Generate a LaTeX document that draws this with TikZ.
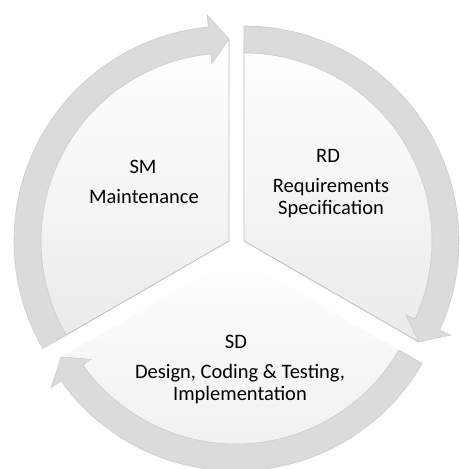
\documentclass[tikz,border=0pt]{standalone}
\usepackage{fontspec}
\setmainfont{Carlito}
\begin{document}
\begin{tikzpicture}[x=1pt,y=1pt,
  sector/.style={top color=white,middle color=white,bottom color=black!8,draw=black!26,line width=0.8pt,line join=miter},
  sectornoline/.style={top color=white,middle color=white,bottom color=black!7,draw=none},
  cyclearrow/.style={fill=black!14,draw=black!20,line width=0.6pt,line join=miter},
  lbl/.style={font=\fontsize{20.5}{22}\selectfont,anchor=base,inner sep=0pt,text=black}]
\useasboundingbox (0,0) rectangle (459,469);
% centres of the three segments
\coordinate (cSM) at (229,228);
\coordinate (cRD) at (244,228);
\coordinate (cSD) at (236,213);
% pie segments
\path[sectornoline] (cSD) -- ++(-30:201) arc[start angle=-30,end angle=-150,radius=201] -- cycle;
\path[sector] (cSM) -- ++(210:201) arc[start angle=210,end angle=90,radius=201] -- cycle;
\path[sector] (cRD) -- ++(90:201) arc[start angle=90,end angle=-30,radius=201] -- cycle;
% curved arrows
\begin{scope}[shift={(cSM)}]
\path[cyclearrow] (210:215) arc[start angle=210,end angle=95.5,radius=215] -- (95.5:227) -- (90:202) -- (95.5:178) -- (95.5:188) arc[start angle=95.5,end angle=210,radius=188] -- cycle;
\end{scope}
\begin{scope}[shift={(cRD)}]
\path[cyclearrow] (90:215) arc[start angle=90,end angle=-24.5,radius=215] -- (-24.5:227) -- (-30:202) -- (-24.5:178) -- (-24.5:188) arc[start angle=-24.5,end angle=90,radius=188] -- cycle;
\end{scope}
\begin{scope}[shift={(cSD)}]
\path[cyclearrow] (-30:215) arc[start angle=-30,end angle=-144.5,radius=215] -- (-144.5:227) -- (-150:202) -- (-144.5:178) -- (-144.5:188) arc[start angle=-144.5,end angle=-30,radius=188] -- cycle;
\end{scope}
% labels
\node[lbl] (smhead) at (143,295) {SM};
\node[lbl] (smtext) at (144,265) {Maintenance};
\node[lbl] (rdhead) at (328,306) {RD};
\node[lbl] (rdtext1) at (331,276) {Requirements};
\node[lbl] (rdtext2) at (331,254) {Specification};
\node[lbl] (sdhead) at (236,120) {SD};
\node[lbl] (sdtext1) at (240,90) {Design, Coding \& Testing,};
\node[lbl] (sdtext2) at (240,68) {Implementation};
\end{tikzpicture}
\end{document}
